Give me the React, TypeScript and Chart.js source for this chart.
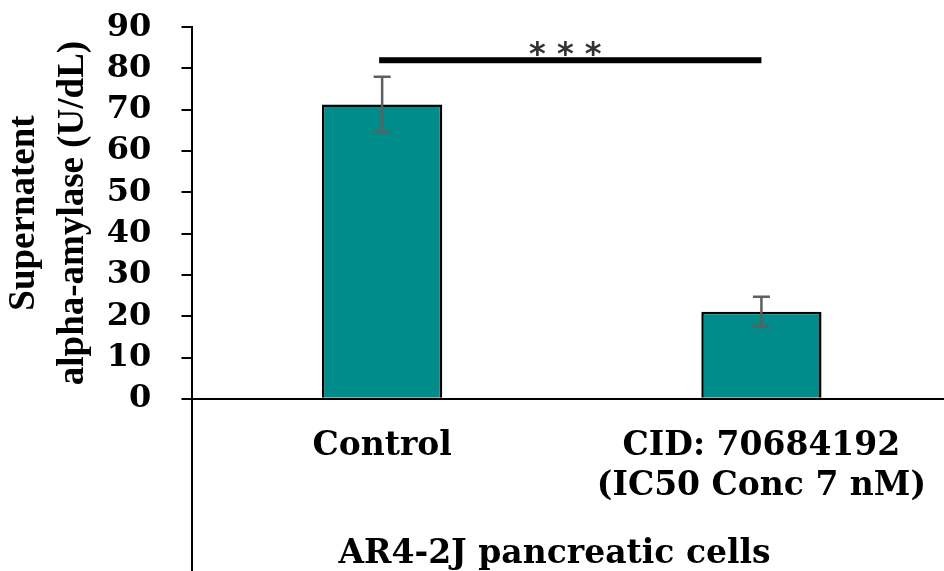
import React, { useEffect, useRef } from "react";
import { Chart, registerables } from "chart.js";

Chart.register(...registerables);

// ---- data ----
const categories: (string | string[])[] = ["Control", ["CID: 70684192", "(IC50 Conc 7 nM)"]];
const means: number[] = [71.3, 21.1];
const errors: number[] = [6.7, 3.6];
const yMin = 0;
const yMax = 90;
const yStep = 10;
const sigLevel = 82;
const sigLabel = "* * *";
const yTitle: string[] = ["Supernatent", "alpha-amylase (U/dL)"];
const xTitle = "AR4-2J pancreatic cells   ";

const BAR_COLOR = "#008C8A";
const ERR_COLOR = "#5E5E5E";

const extrasPlugin = {
  id: "extras",
  afterDatasetsDraw(chart: any) {
    const { ctx, chartArea, scales } = chart;
    const xs = scales.x;
    const ys = scales.y;
    ctx.save();
    // error bars
    ctx.strokeStyle = ERR_COLOR;
    ctx.lineWidth = 2.5;
    means.forEach((m, i) => {
      const cx = xs.getPixelForValue(i);
      const yt = ys.getPixelForValue(m + errors[i]);
      const yb = ys.getPixelForValue(m - errors[i]);
      ctx.beginPath();
      ctx.moveTo(cx, yt);
      ctx.lineTo(cx, yb);
      ctx.moveTo(cx - 8.5, yt);
      ctx.lineTo(cx + 8.5, yt);
      ctx.moveTo(cx - 8.5, yb);
      ctx.lineTo(cx + 8.5, yb);
      ctx.stroke();
    });
    // significance bar
    const x0 = xs.getPixelForValue(0) - 3;
    const x1 = xs.getPixelForValue(1);
    const sy = ys.getPixelForValue(sigLevel);
    ctx.fillStyle = "#000";
    ctx.fillRect(x0, sy - 3, x1 - x0, 6);
    ctx.fillStyle = "#333";
    ctx.font = "bold 32px 'DejaVu Sans'";
    ctx.textAlign = "center";
    ctx.textBaseline = "alphabetic";
    ctx.fillText(sigLabel, (x0 + x1) / 2 - 5, sy + 4);
    // y-axis extension below x-axis
    const lx = Math.round(chartArea.left);
    ctx.strokeStyle = "#000";
    ctx.lineWidth = 2;
    ctx.beginPath();
    ctx.moveTo(lx, chartArea.bottom);
    ctx.lineTo(lx, chart.height);
    ctx.stroke();
    ctx.restore();
  },
};

export default function App() {
  const ref = useRef<HTMLCanvasElement | null>(null);
  useEffect(() => {
    if (!ref.current) return;
    const chart = new Chart(ref.current, {
      type: "bar",
      data: {
        labels: categories as any,
        datasets: [
          {
            data: means,
            backgroundColor: BAR_COLOR,
            borderColor: "#000",
            borderWidth: 2.5,
            barPercentage: 0.317,
            categoryPercentage: 1,
          },
        ],
      },
      options: {
        animation: false,
        responsive: true,
        maintainAspectRatio: false,
        layout: { padding: { top: 0, left: 0, right: 0, bottom: 0 } },
        plugins: { legend: { display: false }, tooltip: { enabled: false } },
        scales: {
          x: {
            offset: true,
            grid: { display: false, drawTicks: false },
            border: { display: true, color: "#000", width: 2 },
            ticks: {
              color: "#000",
              padding: 28,
              maxRotation: 0,
              font: { family: "'DejaVu Serif'", size: 33, weight: "bold", lineHeight: 1.2 },
            },
            title: {
              display: true,
              text: xTitle,
              color: "#000",
              padding: { top: 4, bottom: 0 },
              font: { family: "'DejaVu Serif'", size: 33, weight: "bold", lineHeight: 1.0 },
            },
          },
          y: {
            min: yMin,
            max: yMax,
            ticks: {
              stepSize: yStep,
              autoSkip: false,
              color: "#000",
              padding: 8,
              callback: (v: any) => String(v) + "  ",
              font: { family: "'DejaVu Serif'", size: 32, weight: "bold" },
            },
            grid: { drawOnChartArea: false, drawTicks: true, tickLength: 11, color: "#000", lineWidth: 2 },
            border: { display: true, color: "#000", width: 2 },
            title: {
              display: true,
              text: yTitle,
              color: "#000",
              padding: { top: 0, bottom: 1 },
              font: { family: "'Liberation Serif'", size: 37, weight: "bold", lineHeight: 1.32 },
            },
          },
        },
      },
      plugins: [extrasPlugin],
    });
    return () => chart.destroy();
  }, []);
  return (
    <div style={{ position: "fixed", left: 0, top: 0, width: 944, height: 571, overflow: "hidden", background: "#fff" }}>
      <div style={{ position: "relative", width: 954, height: 571 }}>
        <canvas ref={ref} />
      </div>
    </div>
  );
}
